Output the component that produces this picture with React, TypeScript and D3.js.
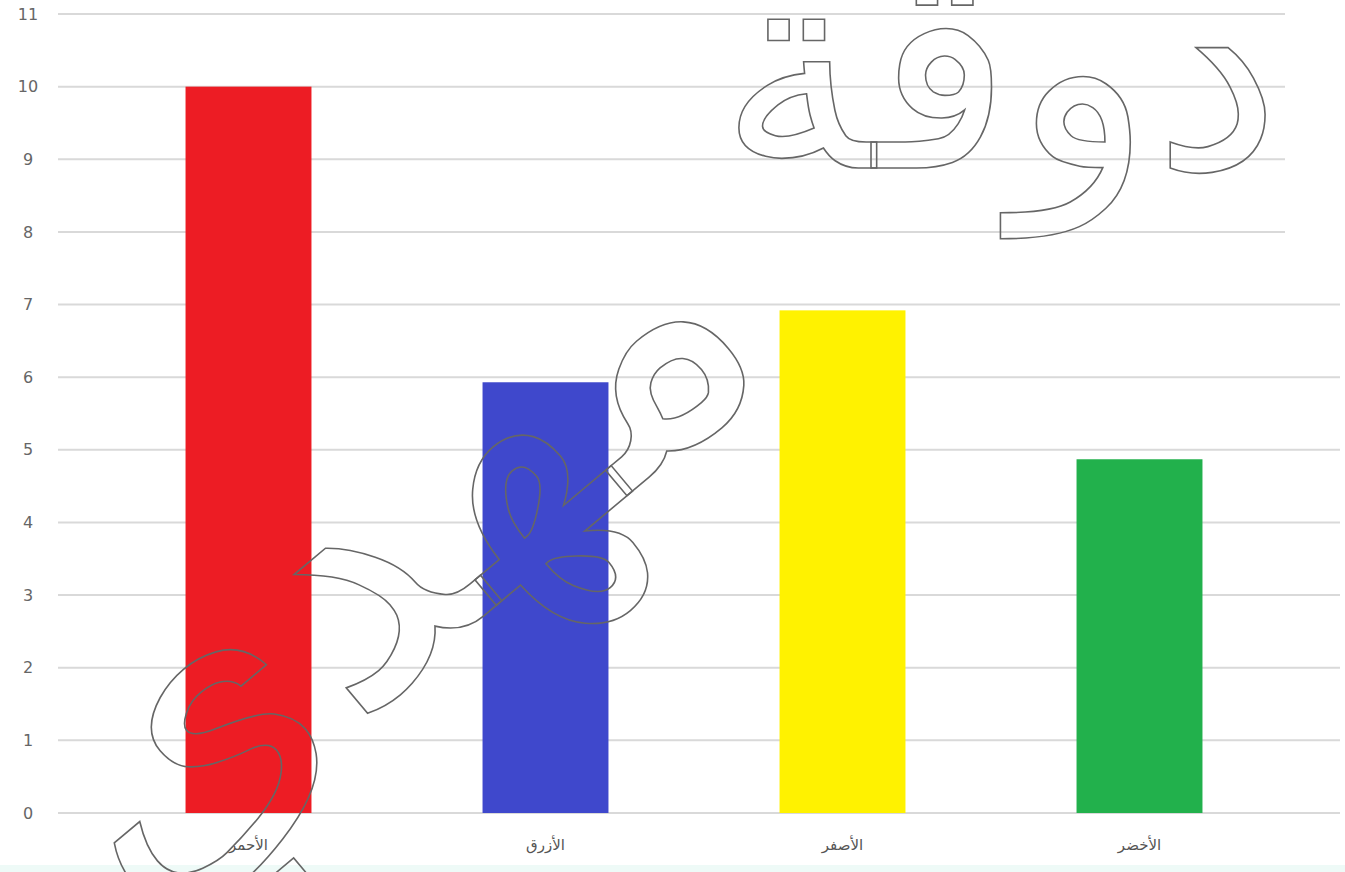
import React from "react";
import * as d3 from "d3";

const categories = ["الأحمر", "الأزرق", "الأصفر", "الأخضر"];
const values = [10, 5.93, 6.92, 4.87];
const colors = ["#ed1c24", "#3f48cc", "#fff200", "#22b14c"];
const yTicks = [0, 1, 2, 3, 4, 5, 6, 7, 8, 9, 10, 11];

const W = 1345;
const H = 872;

export default function App() {
  const y = d3.scaleLinear().domain([0, 11]).range([813, 14]);
  const x = d3.scaleBand<string>().domain(categories).range([100, 1288]).paddingInner(0.576).paddingOuter(0.288);
  const bw = x.bandwidth();
  return (
    <svg width={W} height={H} style={{ position: "absolute", left: 0, top: 0, background: "#fff" }}>
      <rect x={0} y={0} width={W} height={H} fill="#fff" />
      <rect x={0} y={865} width={W} height={7} fill="#eefaf7" />
      {yTicks.map((t) => (
        <g key={t}>
          <line x1={58} x2={t >= 8 ? 1285 : 1340} y1={y(t)} y2={y(t)} stroke="#d9d9d9" strokeWidth={2} />
          <text x={28} y={y(t)} dy="0.35em" textAnchor="middle" fontFamily="'DejaVu Sans', sans-serif" fontSize={16} fill="#666">
            {t}
          </text>
        </g>
      ))}
      {categories.map((c, i) => (
        <g key={c}>
          <rect x={x(c)} y={y(values[i])} width={bw} height={y(0) - y(values[i])} fill={colors[i]} />
          <text x={(x(c) ?? 0) + bw / 2} y={850} textAnchor="middle" fontFamily="'DejaVu Sans', sans-serif" fontSize={15} fill="#555">
            {c}
          </text>
        </g>
      ))}
      <g fill="none" stroke="#666" strokeWidth={1.6} fontFamily="'DejaVu Sans', sans-serif">
        <text x={0} y={0} fontSize={370} transform="translate(455,640) rotate(-40)" textAnchor="middle">مهدي</text>
        <text x={0} y={0} fontSize={290} transform="translate(1000,168)" textAnchor="middle">دوقة</text>
      </g>
    </svg>
  );
}
